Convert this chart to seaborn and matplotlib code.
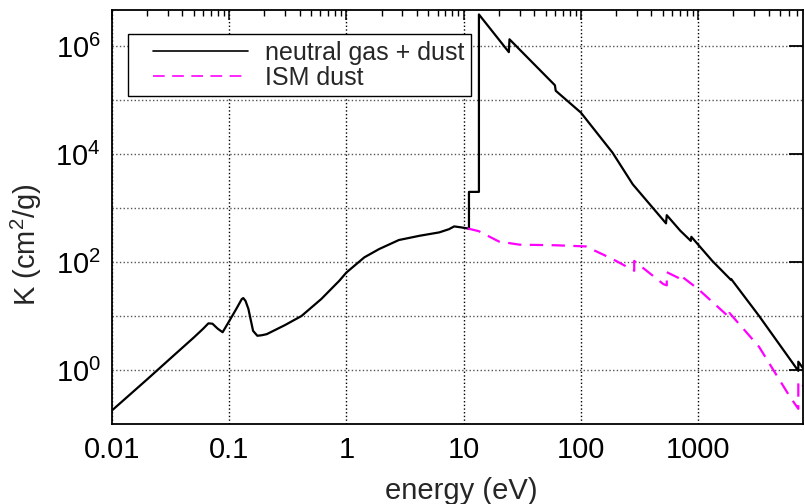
import numpy as np
import pandas as pd
import matplotlib
matplotlib.use('Agg')
import matplotlib.pyplot as plt
import seaborn as sns
from matplotlib.lines import Line2D
from matplotlib.legend_handler import HandlerLine2D
from matplotlib.ticker import LogLocator, FixedLocator, NullFormatter, NullLocator

# energies (eV) and opacity K (cm^2/g)
gas_energy = [0.01, 0.02, 0.035, 0.05, 0.06, 0.0665, 0.072, 0.08, 0.088, 0.1,
              0.115, 0.128, 0.132, 0.138, 0.146, 0.16, 0.174, 0.19, 0.209, 0.3,
              0.414, 0.61, 0.87, 1.0, 1.42, 1.9, 2.8, 4.2, 6.2, 7.5,
              8.3, 9.5, 10.8, 11.1, 11.1, 13.5, 13.5, 24.3, 24.6, 60.0,
              61.0, 100.0, 186.0, 277.0, 532.0, 540.0, 705.0, 866.0, 875.0, 1320.0,
              1900.0, 1920.0, 3300.0, 7150.0, 7150.0, 7900.0]
gas_k = [0.177, 0.67, 2.0, 4.0, 5.8, 7.3, 7.2, 5.8, 5.0, 8.0,
         13.5, 20.5, 21.5, 19.0, 13.5, 5.3, 4.3, 4.4, 4.6, 6.8,
         10.0, 20.6, 45.0, 64.0, 122.0, 174.0, 256.0, 307.0, 355.0, 407.0,
         458.0, 440.0, 420.0, 410.0, 2000.0, 2000.0, 3.9e6, 7.8e5, 1.35e6, 1.9e5,
         1.5e5, 5.9e4, 1.07e4, 2.76e3, 522.0, 740.0, 380.0, 247.0, 294.0, 105.0,
         47.0, 48.0, 10.1, 0.96, 1.42, 1.05]

dust_energy = [10.8, 13.5, 20.0, 30.0, 60.0, 110.0, 186.0, 285.0, 285.0, 505.0,
               540.0, 540.0, 690.0, 710.0, 710.0, 1000.0, 1850.0, 1850.0, 3300.0, 6000.0,
               7150.0, 7150.0, 7900.0]
dust_k = [420.0, 373.0, 240.0, 210.0, 205.0, 195.0, 114.0, 69.0, 105.0, 39.0,
          37.0, 65.0, 50.0, 49.0, 56.0, 31.6, 9.4, 11.4, 2.7, 0.33,
          0.19, 0.63, 0.5]

gas = pd.DataFrame({'energy': gas_energy, 'K': gas_k})
dust = pd.DataFrame({'energy': dust_energy, 'K': dust_k})

sns.set_style('white')
plt.rcParams['font.family'] = ['Liberation Sans', 'DejaVu Sans']
plt.rcParams['mathtext.fontset'] = 'custom'
plt.rcParams['mathtext.rm'] = 'Liberation Sans'
plt.rcParams['mathtext.it'] = 'Liberation Sans:italic'

fig = plt.figure(figsize=(8.05, 5.04), dpi=100)
ax = fig.add_axes([0.139, 0.159, 0.859, 0.822])

dash = [6.0, 3.8]
sns.lineplot(data=gas, x='energy', y='K', ax=ax, color='black', lw=1.6,
             estimator=None, sort=False, label='neutral gas + dust')
sns.lineplot(data=dust, x='energy', y='K', ax=ax, color='#ff00ff', lw=1.6,
             estimator=None, sort=False, label='ISM dust')
ax.lines[1].set_dashes(dash)

ax.set(xscale='log', yscale='log')
ax.set_xlim(0.01, 7900)
ax.set_ylim(0.1, 4.8e6)

ax.set_xticks([0.01, 0.1, 1, 10, 100, 1000])
ax.set_xticklabels(['0.01', '0.1', '1', '10', '100', '1000'])
ax.xaxis.set_minor_locator(LogLocator(base=10, subs=np.arange(2, 10)))
ax.xaxis.set_minor_formatter(NullFormatter())

ax.yaxis.set_major_locator(FixedLocator([1, 100, 1e4, 1e6]))
ax.set_yticklabels(['$10^0$', '$10^2$', '$10^4$', '$10^6$'])
ax.yaxis.set_minor_locator(NullLocator())

ax.tick_params(which='both', direction='in', top=True, right=True, labelsize=21, colors='black')
ax.tick_params(axis='x', which='major', length=7, width=1.1, pad=9)
ax.tick_params(axis='x', which='minor', length=4, width=1)
ax.tick_params(axis='y', which='major', length=10, width=1.3, pad=8)

# grid at every decade (odd y decades included)
for v in [0.01, 0.1, 1, 10, 100, 1000]:
    ax.axvline(v, ls=':', color='black', lw=1, zorder=0)
for v in [1, 10, 100, 1e3, 1e4, 1e5, 1e6]:
    ax.axhline(v, ls=':', color='#555555', lw=1, zorder=0)

for s in ax.spines.values():
    s.set_color('black')
    s.set_linewidth(1.3)

ax.set_xlabel('energy (eV)', fontsize=21)
ax.set_ylabel('K (cm$^2$/g)', fontsize=21)
ax.xaxis.set_label_coords(0.505, -0.128)
ax.yaxis.set_label_coords(-0.098, 0.432)

handles = ax.get_legend_handles_labels()[0]
leg = ax.legend(handles, ['neutral gas + dust', 'ISM dust'], loc='upper left',
                bbox_to_anchor=(0.023, 0.94), borderaxespad=0, fontsize=18,
                frameon=True, fancybox=False, handlelength=4.56, borderpad=0.25,
                labelspacing=0.05, handletextpad=0.68,
                handler_map={Line2D: HandlerLine2D(xpad=0.76)})
leg.get_frame().set_edgecolor('black')
leg.get_frame().set_linewidth(1)
leg.get_frame().set_alpha(1)
leg.get_lines()[0].set_linewidth(1.2)
leg.get_lines()[1].set_linewidth(1.2)
leg.get_lines()[1].set_dashes([7.0, 4.5])

plt.savefig('out.png', dpi=100)
